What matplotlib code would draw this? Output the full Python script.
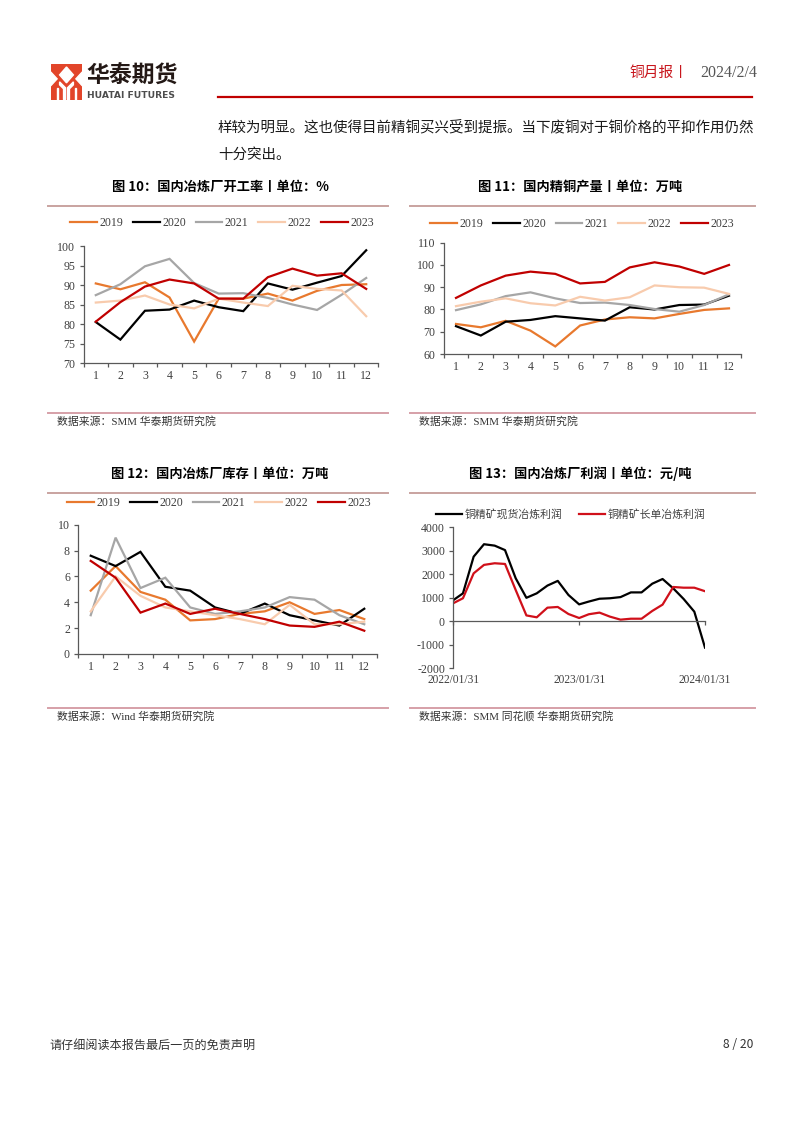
import matplotlib
matplotlib.use('Agg')
import matplotlib.pyplot as plt
from matplotlib.patches import Rectangle, Polygon
import numpy as np
import pandas as pd

plt.rcParams['axes.unicode_minus'] = False

W, H = 802, 1133
CJK = 'Noto Sans CJK SC'
SERIF = ['Liberation Serif', 'Noto Sans CJK SC']

# ---------------- data ----------------
months = list(range(1, 13))
years = ['2019', '2020', '2021', '2022', '2023']
year_colors = ['#E8792E', '#000000', '#A6A6A6', '#F8CBAD', '#C00000']

# Fig 10: smelter operating rate (%)
rate_2019 = [90.4, 88.9, 90.7, 86.8, 75.5, 86.5, 86.5, 87.8, 86.0, 88.5, 90.0, 90.2]
rate_2020 = [80.5, 76.0, 83.4, 83.7, 86.0, 84.3, 83.3, 90.4, 88.8, 90.6, 92.3, 98.9]
rate_2021 = [87.4, 90.2, 94.8, 96.7, 90.5, 87.8, 87.9, 86.7, 85.0, 83.6, 87.5, 91.8]
rate_2022 = [85.5, 86.0, 87.3, 85.0, 84.0, 86.5, 85.5, 84.6, 89.8, 89.0, 88.6, 82.0]
rate_2023 = [80.6, 85.6, 89.6, 91.4, 90.4, 86.5, 86.5, 92.0, 94.2, 92.4, 93.0, 89.0]

# Fig 11: refined copper output (10k t)
out_2019 = [73.5, 72.0, 74.9, 70.5, 63.4, 72.8, 75.5, 76.5, 76.0, 78.0, 79.8, 80.5]
out_2020 = [72.5, 68.3, 74.5, 75.3, 77.0, 76.0, 75.0, 81.0, 80.0, 82.0, 82.2, 86.2]
out_2021 = [79.7, 82.3, 86.0, 87.7, 85.0, 82.9, 83.1, 82.0, 80.2, 79.0, 82.0, 86.8]
out_2022 = [81.5, 83.5, 85.0, 82.8, 81.8, 85.7, 84.0, 85.5, 90.8, 90.0, 89.8, 87.0]
out_2023 = [85.2, 90.8, 95.2, 97.0, 96.0, 91.7, 92.4, 98.9, 101.2, 99.3, 96.0, 100.0]

# Fig 12: smelter inventory (10k t)
inv_2019 = [4.9, 6.8, 4.8, 4.2, 2.6, 2.7, 3.1, 3.3, 4.0, 3.1, 3.4, 2.7]
inv_2020 = [7.6, 6.8, 7.9, 5.2, 4.9, 3.6, 3.1, 3.9, 3.0, 2.6, 2.2, 3.5]
inv_2021 = [3.0, 9.0, 5.1, 5.9, 3.6, 3.1, 3.3, 3.6, 4.4, 4.2, 3.0, 2.3]
inv_2022 = [3.3, 6.0, 4.5, 3.6, 3.3, 3.0, 2.7, 2.3, 3.8, 2.3, 2.3, 2.5]
inv_2023 = [7.2, 5.9, 3.2, 3.9, 3.1, 3.5, 3.1, 2.7, 2.2, 2.1, 2.5, 1.8]

# Fig 13: smelting profit (yuan/t), monthly 2022/01/31 - 2024/01/31
profit_dates = pd.date_range('2022-01-31', periods=25, freq='ME')
spot_profit = [900, 1190, 2750, 3280, 3220, 3030, 1830, 1000, 1190, 1520, 1720, 1120,
               720, 840, 960, 980, 1030, 1230, 1230, 1600, 1800, 1400, 950, 410, -1120]
long_profit = [770, 980, 2040, 2400, 2470, 2440, 1330, 250, 170, 580, 610, 310,
               140, 300, 370, 200, 70, 110, 110, 440, 710, 1460, 1430, 1430, 1280]
profit_names = ['铜精矿现货冶炼利润', '铜精矿长单冶炼利润']
profit_colors = ['#000000', '#D0101A']
date_ticks = ['2022/01/31', '2023/01/31', '2024/01/31']

titles = ['图 10：国内冶炼厂开工率丨单位：%', '图 11：国内精铜产量丨单位：万吨',
          '图 12：国内冶炼厂库存丨单位：万吨', '图 13：国内冶炼厂利润丨单位：元/吨']
sources = ['数据来源：SMM 华泰期货研究院', '数据来源：SMM 华泰期货研究院',
           '数据来源：Wind 华泰期货研究院', '数据来源：SMM 同花顺 华泰期货研究院']

# ---------------- figure ----------------
fig = plt.figure(figsize=(W / 100, H / 100), dpi=100)


def axes_px(l, t, r, b):
    return fig.add_axes([l / W, 1 - b / H, (r - l) / W, (b - t) / H])


def ftext(x, y, s, **kw):
    return fig.text(x / W, 1 - y / H, s, **kw)


def hline(x0, x1, y, color, lw):
    fig.add_artist(plt.Line2D([x0 / W, x1 / W], [1 - y / H, 1 - y / H],
                              color=color, lw=lw, transform=fig.transFigure))


AXC = '#595959'
TXC = '#404040'
TICK_FS = 8.6
LEG_FS = 8.6

# ---- header ----
lax = axes_px(50.7, 64, 82.3, 99.7)
lax.set_xlim(0, 32)
lax.set_ylim(36, 0)
lax.axis('off')
lax.add_patch(Rectangle((0, 0), 32, 36, color='#E2452A'))
lax.add_patch(Polygon([(16, 3), (23, 11), (16, 19), (9, 11)], color='white'))
lax.add_patch(Polygon([(0, 8), (6.5, 15), (0, 22)], color='white'))
lax.add_patch(Polygon([(32, 8), (25.5, 15), (32, 22)], color='white'))
lax.add_patch(Polygon([(9, 18), (15, 24), (15, 36), (13, 36), (13, 25), (9, 21)], color='white'))
lax.add_patch(Polygon([(23, 18), (17, 24), (17, 36), (19, 36), (19, 25), (23, 21)], color='white'))
lax.add_patch(Rectangle((6, 24), 1.6, 12, color='white'))
lax.add_patch(Rectangle((24.4, 24), 1.6, 12, color='white'))

ftext(86.5, 76, '华泰期货', family=CJK, fontsize=16.5, fontweight='bold',
      color='#231815', va='center', ha='left')
ftext(87, 95, 'HUATAI FUTURES', family=['DejaVu Sans'], fontsize=6.6, fontweight='bold',
      color='#4D4D4D', va='center', ha='left')

ftext(629, 73, '铜月报丨', family=CJK, fontsize=10.6, color='#C8161D', va='center', ha='left')
ftext(757, 73, '2024/2/4', family=SERIF, fontsize=11.5, color='#555555', va='center', ha='right')
hline(218, 752, 97.3, '#C00000', 1.6)

ftext(218, 127, '样较为明显。这也使得目前精铜买兴受到提振。当下废铜对于铜价格的平抑作用仍然',
      family=CJK, fontsize=10.45, color='#1A1A1A', va='center', ha='left')
ftext(218, 155, '十分突出。', family=CJK, fontsize=10.45, color='#1A1A1A', va='center', ha='left')

# ---- panel frames ----
LINEC = '#C9A3A0'
SRCC = '#D6A0A8'
panels = [
    dict(cx=220, x0=48, x1=388, ty=187, tl=205.5, sl=412.7, sy=421),
    dict(cx=580, x0=410, x1=755, ty=187, tl=205.5, sl=412.7, sy=421),
    dict(cx=220, x0=48, x1=388, ty=474, tl=493, sl=708.3, sy=716),
    dict(cx=580, x0=410, x1=755, ty=474, tl=493, sl=708.3, sy=716),
]
for p, t, s in zip(panels, titles, sources):
    ftext(p['cx'], p['ty'], t, family=CJK, fontsize=9.5, fontweight='bold',
          color='#000000', ha='center', va='center')
    hline(p['x0'], p['x1'], p['tl'], LINEC, 1.4)
    hline(p['x0'], p['x1'], p['sl'], SRCC, 1.4)
    ftext(p['x0'] + 9, p['sy'], s, family=SERIF, fontsize=7.8, color='#333333',
          ha='left', va='center')


def style_axes(ax):
    for s in ['top', 'right']:
        ax.spines[s].set_visible(False)
    for s in ['left', 'bottom']:
        ax.spines[s].set_color(AXC)
        ax.spines[s].set_linewidth(0.9)
    ax.tick_params(axis='y', length=3, direction='out', color=AXC, width=0.9,
                   pad=3, labelsize=TICK_FS, labelcolor=TXC)
    for lab in ax.get_yticklabels() + ax.get_xticklabels():
        lab.set_family(SERIF)


def cat_chart(rect, series, ylim, ystep, leg_xy):
    ax = axes_px(*rect)
    for name, vals, c in zip(years, series, year_colors):
        ax.plot(months, vals, color=c, lw=1.6, label=name, solid_joinstyle='miter')
    ax.set_xlim(0.5, 12.5)
    ax.set_ylim(*ylim)
    ax.set_yticks(np.arange(ylim[0], ylim[1] + 0.01, ystep))
    ax.set_xticks(months)
    ax.set_xticks(np.arange(0.5, 12.6, 1), minor=True)
    ax.tick_params(axis='x', which='major', length=0, pad=5, labelsize=TICK_FS, labelcolor=TXC)
    ax.tick_params(axis='x', which='minor', length=3, direction='out', color=AXC, width=0.9)
    style_axes(ax)
    ax.legend(loc='center', bbox_to_anchor=(leg_xy[0] / W, 1 - leg_xy[1] / H),
              bbox_transform=fig.transFigure, ncol=5, frameon=False,
              handlelength=2.25, handletextpad=0.2, columnspacing=0.82,
              borderpad=0, prop={'family': SERIF, 'size': LEG_FS},
              labelcolor=TXC)
    return ax


cat_chart((83.5, 246, 378.5, 363),
          [rate_2019, rate_2020, rate_2021, rate_2022, rate_2023], (70, 100), 5, (222, 223.5))
cat_chart((443.6, 242.7, 741.4, 354),
          [out_2019, out_2020, out_2021, out_2022, out_2023], (60, 110), 10, (582, 224))
cat_chart((78.3, 524.7, 376.7, 654),
          [inv_2019, inv_2020, inv_2021, inv_2022, inv_2023], (0, 10), 2, (219, 502.7))

# ---- Fig 13 ----
ax = axes_px(453.3, 527.3, 705, 668.3)
for name, vals, c in zip(profit_names, [spot_profit, long_profit], profit_colors):
    ax.plot(profit_dates, vals, color=c, lw=1.6, label=name)
ax.set_xlim(profit_dates[0], profit_dates[-1])
ax.set_ylim(-2000, 4000)
ax.set_yticks(np.arange(-2000, 4001, 1000))
ax.spines['bottom'].set_position(('data', 0))
tick_dates = [profit_dates[0], profit_dates[12], profit_dates[24]]
ax.set_xticks(tick_dates)
ax.set_xticklabels(['', '', ''])
ax.tick_params(axis='x', length=3, direction='out', color=AXC, width=0.9)
style_axes(ax)
for d, lab in zip(tick_dates, date_ticks):
    ax.text(d, -0.083, lab, transform=ax.get_xaxis_transform(), ha='center', va='center',
            family=SERIF, fontsize=8.3, color=TXC)
ax.legend(loc='center', bbox_to_anchor=(571 / W, 1 - 514 / H),
          bbox_transform=fig.transFigure, ncol=2, frameon=False,
          handlelength=2.4, handletextpad=0.25, columnspacing=1.5,
          borderpad=0, prop={'family': CJK, 'size': 7.8}, labelcolor=TXC)

# ---- footer ----
ftext(49, 1045, '请仔细阅读本报告最后一页的免责声明', family=CJK, fontsize=8.7,
      color='#333333', ha='left', va='center')
ftext(753, 1045, '8 / 20', family=CJK, fontsize=8.7, color='#333333', ha='right', va='center')

fig.savefig('out.png', dpi=100, facecolor='white')
